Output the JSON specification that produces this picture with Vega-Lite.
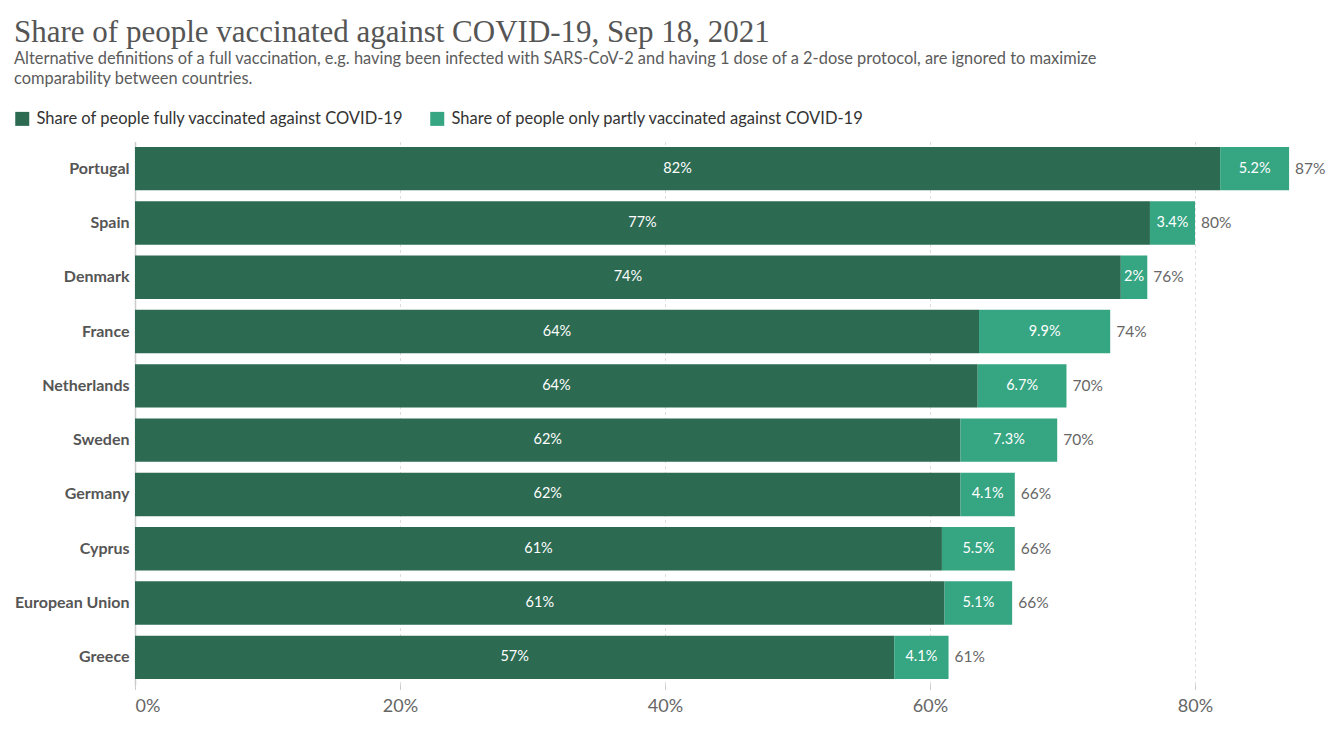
{
  "$schema": "https://vega.github.io/schema/vega-lite/v6.json",
  "autosize": "none",
  "width": 1192.5,
  "height": 543,
  "padding": {"left": 135, "top": 141.5, "right": 16.5, "bottom": 49.5},
  "background": "white",
  "title": {
    "text": "Share of people vaccinated against COVID-19, Sep 18, 2021",
    "subtitle": ["Alternative definitions of a full vaccination, e.g. having been infected with SARS-CoV-2 and having 1 dose of a 2-dose protocol, are ignored to maximize", "comparability between countries."],
    "anchor": "start",
    "frame": "group",
    "dx": -121,
    "offset": 22,
    "font": "Liberation Serif",
    "fontSize": 31,
    "fontWeight": "normal",
    "color": "#555555",
    "subtitleFont": "Lato",
    "subtitleFontSize": 16.4,
    "subtitleColor": "#5b5b5b",
    "subtitlePadding": 2,
    "subtitleLineHeight": 20
  },
  "config": {
    "view": {"stroke": null},
    "font": "Lato"
  },
  "data": {
    "values": [
      {"country": "Portugal", "full": 81.9, "partial": 5.2, "total": 87.1},
      {"country": "Spain", "full": 76.6, "partial": 3.4, "total": 80.0},
      {"country": "Denmark", "full": 74.4, "partial": 2.0, "total": 76.4},
      {"country": "France", "full": 63.7, "partial": 9.9, "total": 73.6},
      {"country": "Netherlands", "full": 63.6, "partial": 6.7, "total": 70.3},
      {"country": "Sweden", "full": 62.3, "partial": 7.3, "total": 69.6},
      {"country": "Germany", "full": 62.3, "partial": 4.1, "total": 66.4},
      {"country": "Cyprus", "full": 60.9, "partial": 5.5, "total": 66.4},
      {"country": "European Union", "full": 61.1, "partial": 5.1, "total": 66.2},
      {"country": "Greece", "full": 57.3, "partial": 4.1, "total": 61.4}
    ]
  },
  "transform": [
    {"calculate": "datum.full / 2", "as": "fullMid"},
    {"calculate": "(datum.full + datum.total) / 2", "as": "partialMid"},
    {"calculate": "format(datum.full, '.2~r') + '%'", "as": "fullLabel"},
    {"calculate": "format(datum.partial, '.2~r') + '%'", "as": "partialLabel"},
    {"calculate": "format(datum.total, '.2~r') + '%'", "as": "totalLabel"}
  ],
  "encoding": {
    "y": {
      "field": "country",
      "type": "nominal",
      "sort": null,
      "scale": {"paddingInner": 0.2, "paddingOuter": 0.1},
      "axis": {
        "title": null,
        "ticks": false,
        "domain": true,
        "domainColor": "#cccccc",
        "domainWidth": 1.5,
        "labelFont": "Lato",
        "labelFontSize": 16,
        "labelFontWeight": "bold",
        "labelColor": "#555555",
        "labelPadding": 6
      }
    }
  },
  "layer": [
    {
      "mark": {"type": "bar"},
      "encoding": {
        "x": {
          "field": "full",
          "type": "quantitative",
          "scale": {"domain": [0, 90], "nice": false},
          "axis": {
            "title": null,
            "values": [0, 20, 40, 60, 80],
            "labelExpr": "datum.value + '%'",
            "grid": true,
            "gridDash": [3, 3],
            "gridColor": "#dddddd",
            "domain": false,
            "ticks": true,
            "tickSize": 5,
            "tickColor": "#cccccc",
            "labelFont": "Lato",
            "labelFontSize": 18,
            "labelColor": "#666666",
            "labelPadding": 8
          }
        },
        "color": {
          "datum": "Share of people fully vaccinated against COVID-19",
          "type": "nominal",
          "scale": {
            "domain": ["Share of people fully vaccinated against COVID-19", "Share of people only partly vaccinated against COVID-19"],
            "range": ["#2d6a52", "#36a582"]
          },
          "legend": {
            "title": null,
            "orient": "none",
            "direction": "horizontal",
            "legendX": -121,
            "legendY": -31,
            "symbolType": "square",
            "symbolSize": 196,
            "symbolStrokeWidth": 0,
            "symbolOpacity": 1,
            "labelFont": "Lato",
            "labelFontSize": 16.5,
            "labelColor": "#333333",
            "labelLimit": 600,
            "columnPadding": 25,
            "labelOffset": 6
          }
        }
      }
    },
    {
      "mark": {"type": "bar"},
      "encoding": {
        "x": {"field": "full", "type": "quantitative"},
        "x2": {"field": "total"},
        "color": {"datum": "Share of people only partly vaccinated against COVID-19", "type": "nominal"}
      }
    },
    {
      "mark": {"type": "text", "color": "white", "font": "Lato", "fontSize": 14.5, "align": "center", "baseline": "middle"},
      "encoding": {
        "x": {"field": "fullMid", "type": "quantitative"},
        "text": {"field": "fullLabel"}
      }
    },
    {
      "mark": {"type": "text", "color": "white", "font": "Lato", "fontSize": 14.5, "align": "center", "baseline": "middle"},
      "encoding": {
        "x": {"field": "partialMid", "type": "quantitative"},
        "text": {"field": "partialLabel"}
      }
    },
    {
      "mark": {"type": "text", "color": "#666666", "font": "Lato", "fontSize": 15.5, "align": "left", "baseline": "middle", "dx": 6},
      "encoding": {
        "x": {"field": "total", "type": "quantitative"},
        "text": {"field": "totalLabel"}
      }
    }
  ]
}
